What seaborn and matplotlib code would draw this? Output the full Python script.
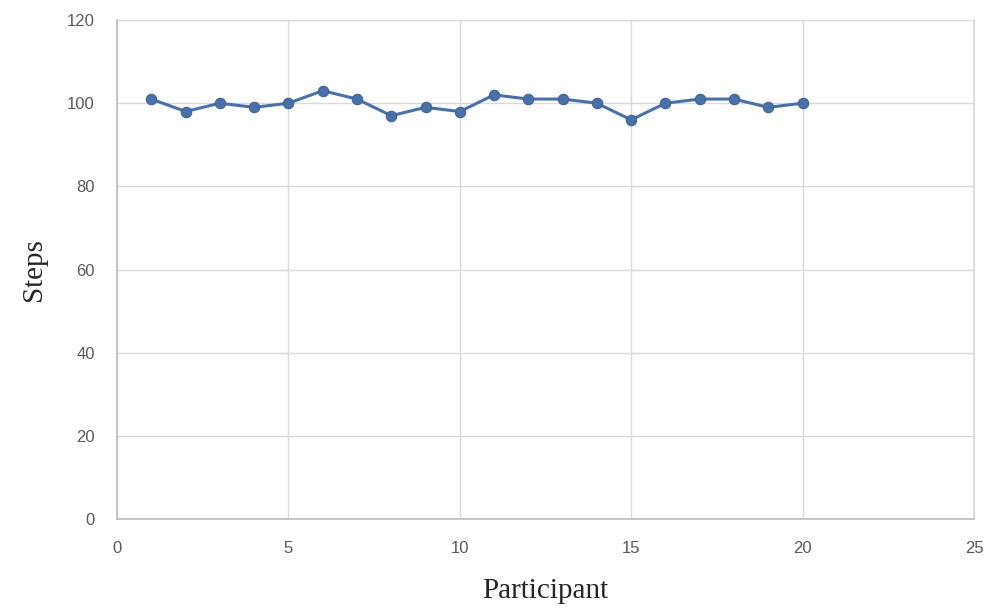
import matplotlib
matplotlib.use("Agg")
import matplotlib.pyplot as plt
import seaborn as sns
import pandas as pd

participants = list(range(1, 21))
steps = [101, 98, 100, 99, 100, 103, 101, 97, 99, 98, 102, 101, 101, 100, 96, 100, 101, 101, 99, 100]
x_ticks = [0, 5, 10, 15, 20, 25]
y_ticks = [0, 20, 40, 60, 80, 100, 120]

sns.set_theme(style="white")
df = pd.DataFrame({"Participant": participants, "Steps": steps})

fig = plt.figure(figsize=(9.89, 6.13), dpi=100)
ax = fig.add_axes([0.1183, 0.1533, 0.8665, 0.814])
sns.lineplot(data=df, x="Participant", y="Steps", ax=ax, color="#4a70a8",
             linewidth=2.2, marker="o", markersize=7.5, markeredgecolor="#3f6399",
             markeredgewidth=0.8)
ax.set_xlim(0, 25)
ax.set_ylim(0, 120)
ax.set_xticks(x_ticks)
ax.set_yticks(y_ticks)
ax.grid(True, color="#d9d9d9", linewidth=1.0)
ax.spines["top"].set_visible(False)
ax.spines["right"].set_color("#d9d9d9")
ax.spines["left"].set_color("#bfbfbf")
ax.spines["bottom"].set_color("#bfbfbf")
ax.tick_params(axis="x", length=0, labelsize=12, labelcolor="#595959", pad=16)
ax.tick_params(axis="y", length=0, labelsize=12, labelcolor="#595959", pad=16)
for lbl in ax.get_xticklabels() + ax.get_yticklabels():
    lbl.set_family("Liberation Sans")
ax.set_xlabel("Participant", fontsize=21, family="Liberation Serif", color="#262626", labelpad=16)
ax.set_ylabel("Steps", fontsize=21, family="Liberation Serif", color="#262626", labelpad=14)
fig.savefig("out.png", dpi=100)
